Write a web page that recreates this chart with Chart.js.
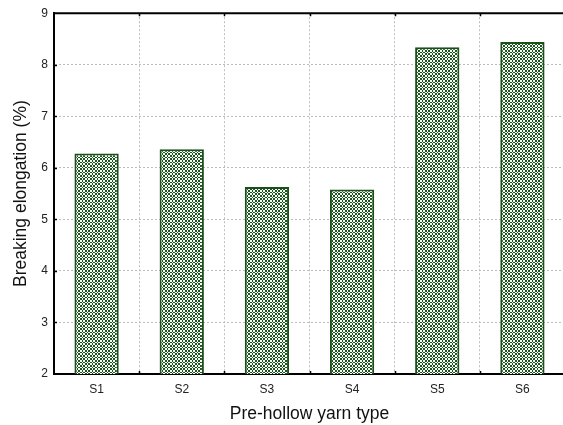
<!DOCTYPE html>
<html lang="en">
<head>
  <meta charset="UTF-8">
  <title>Breaking elongation</title>
  <script src="https://cdn.jsdelivr.net/npm/chart.js"></script>
  <style>
    html, body {
      margin: 0;
      padding: 0;
      background: #ffffff;
      overflow: hidden;
    }
    canvas {
      display: block;
    }
  </style>
</head>
<body>

<canvas id="grafico" width="570" height="425"></canvas>

<script>
const categorias = ['S1', 'S2', 'S3', 'S4', 'S5', 'S6'];
const elongacion = [6.28, 6.36, 5.63, 5.58, 8.34, 8.44];
const yTicks = [2, 3, 4, 5, 6, 7, 8, 9];

const fuente = '"Liberation Sans", Arial, sans-serif';

// hatch fill: small pixel checkerboard, green and white
function crearPatron() {
  const b = [0, 2, 3, 5, 7, 8, 10];
  const c = document.createElement('canvas');
  c.width = 10;
  c.height = 10;
  const g = c.getContext('2d');
  for (let i = 0; i < 6; i++) {
    for (let j = 0; j < 6; j++) {
      g.fillStyle = (i + j) % 2 ? '#1b581b' : '#ffffff';
      g.fillRect(b[i], b[j], b[i + 1] - b[i], b[j + 1] - b[j]);
    }
  }
  return g.createPattern(c, 'repeat');
}

// top border and small inward tick marks
const marcoPlugin = {
  id: 'marco',
  afterDraw(chart) {
    const ctx = chart.ctx;
    const area = chart.chartArea;
    const x = chart.scales.x;
    const y = chart.scales.y;
    ctx.save();
    ctx.strokeStyle = '#000000';
    ctx.lineWidth = 2;
    ctx.beginPath();
    ctx.moveTo(area.left - 1, area.top);
    ctx.lineTo(area.right + 1, area.top);
    ctx.stroke();

    ctx.lineWidth = 1.5;
    ctx.beginPath();
    for (let i = 1; i < categorias.length; i++) {
      const px = Math.round(x.getPixelForValue(i - 0.5)) + 0.5;
      ctx.moveTo(px, area.bottom);
      ctx.lineTo(px, area.bottom - 3);
      ctx.moveTo(px, area.top);
      ctx.lineTo(px, area.top + 3);
    }
    yTicks.slice(1, -1).forEach(v => {
      const py = Math.round(y.getPixelForValue(v)) + 0.5;
      ctx.moveTo(area.left, py);
      ctx.lineTo(area.left + 3, py);
    });
    ctx.stroke();
    ctx.restore();
  }
};

const ctx = document.getElementById('grafico').getContext('2d');

new Chart(ctx, {
  type: 'bar',
  data: {
    labels: categorias,
    datasets: [{
      label: 'Breaking elongation (%)',
      data: elongacion,
      backgroundColor: crearPatron(),
      borderColor: '#1a4f1a',
      borderWidth: 2,
      borderSkipped: false,
      categoryPercentage: 1,
      barPercentage: 0.52
    }]
  },
  options: {
    responsive: false,
    animation: false,
    layout: {
      padding: { top: 12, right: 5, left: 0, bottom: 0 }
    },
    scales: {
      x: {
        grid: {
          color: '#bdbdbd',
          lineWidth: 1,
          drawTicks: false,
          offset: true
        },
        border: { color: '#000000', width: 2, dash: [2, 2] },
        ticks: {
          color: '#222222',
          font: { family: fuente, size: 12 },
          padding: 8
        },
        title: {
          display: true,
          text: 'Pre-hollow yarn type',
          color: '#111111',
          font: { family: fuente, size: 17.5 },
          padding: { top: 0, bottom: 0 }
        },
        afterFit(scale) { scale.height = 51; }
      },
      y: {
        min: 2,
        max: 9,
        afterBuildTicks(scale) {
          scale.ticks = yTicks.map(v => ({ value: v }));
        },
        grid: {
          color: '#bdbdbd',
          lineWidth: 1,
          drawTicks: false
        },
        border: { color: '#000000', width: 2, dash: [2, 2] },
        ticks: {
          color: '#222222',
          font: { family: fuente, size: 12 },
          padding: 6
        },
        title: {
          display: true,
          text: 'Breaking elongation (%)',
          color: '#111111',
          font: { family: fuente, size: 17.5 },
          padding: { top: 11, bottom: 0 }
        },
        afterFit(scale) { scale.width = 54; }
      }
    },
    plugins: {
      legend: { display: false },
      tooltip: { enabled: false }
    }
  },
  plugins: [marcoPlugin]
});
</script>

</body>
</html>
